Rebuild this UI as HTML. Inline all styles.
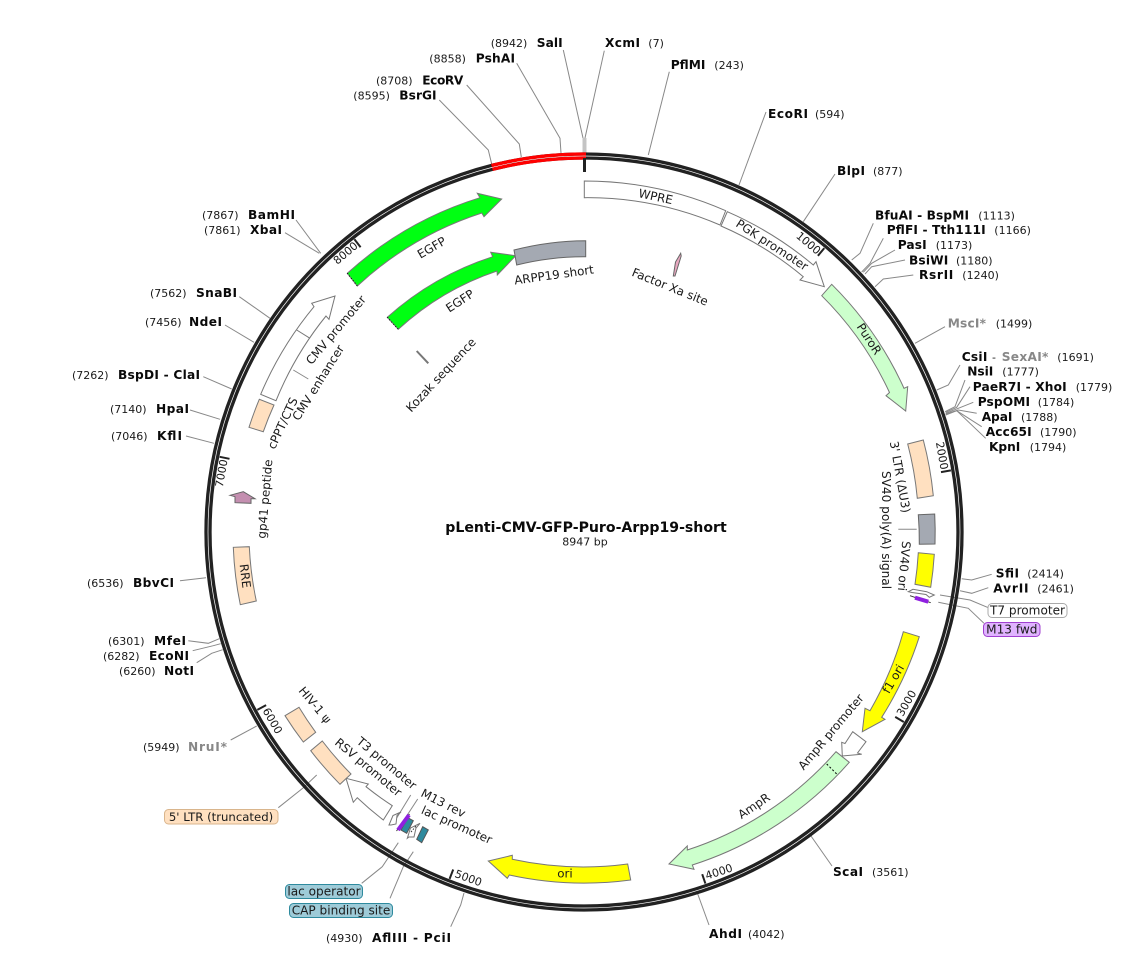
<!DOCTYPE html>
<html><head><meta charset="utf-8"><title>pLenti-CMV-GFP-Puro-Arpp19-short</title>
<style>
html,body{margin:0;padding:0;background:#fff}
svg{display:block}
text{font-family:"DejaVu Sans","Liberation Sans",sans-serif;font-size:11px;fill:#1a1a1a}
.b{font-weight:700;fill:#0a0a0a;font-size:12.2px}
.g{font-weight:700;fill:#888;font-size:12.2px}
.c{text-anchor:middle;dominant-baseline:central}
.lab text{font-size:11.9px}
.box{font-size:12.1px}
.l{fill:none;stroke:#888;stroke-width:1}
.f{stroke:#777;stroke-width:1}
</style></head><body>
<svg width="1128" height="966" viewBox="0 0 1128 966" xmlns="http://www.w3.org/2000/svg">
<rect width="1128" height="966" fill="#fff"/>

<!-- leaders -->
<g class="l">
<polyline points="563.3,50 583,138"/><polyline points="604.3,50.7 585,138"/>
<polyline points="516.7,63.3 560,138.3 561,153"/>
<polyline points="466.7,85 519.3,144 521.3,157"/>
<polyline points="439.3,100 488.3,150 491.7,164"/>
<polyline points="669.3,71.7 648.3,155"/>
<polyline points="766,112 739,185"/>
<polyline points="835,174 803.3,221.7"/>
<polyline points="873.3,223.3 860,253.3 851.7,260"/>
<polyline points="883.3,238.3 870,263.3 861.7,272"/>
<polyline points="895,250 871.7,263.3 863.3,272.3"/>
<polyline points="905,260 871.7,266.7 865,274"/>
<polyline points="913.3,275 883.3,279 875,286.7"/>
<polyline points="945,326.7 915,343.3"/>
<polyline points="960,365 948.3,385 936.7,390"/>
<polyline points="965,380 955,406.7 945,411.7"/>
<polyline points="970,386.7 956.7,407.3 945.7,412.3"/>
<polyline points="973.3,402.3 958.3,408.3 945.7,413.3"/>
<polyline points="976.7,413.3 958.3,410 945.7,414"/>
<polyline points="981.7,426.7 956.7,410.7 945.7,414.7"/>
<polyline points="985.7,438.3 956.7,410.7 945.7,415"/>
<polyline points="991.7,574.3 971.7,580 961.7,578.7"/>
<polyline points="988.3,587.7 971.7,593.3 960,590.7"/>
<polyline points="940,595 970,600 988.3,607.7"/>
<polyline points="938.3,602.3 968.3,608.3 984,623.3"/>
<polyline points="898.3,529.3 916.7,529.3"/>
<polyline points="832,866 811,836"/>
<polyline points="709,925 697,892"/>
<polyline points="450.7,926.7 460.7,905 464,893"/>
<polyline points="361.7,883.3 382.3,866.7 398.3,842.7"/>
<polyline points="390,898.3 403.3,866.7 413.3,851.7"/>
<polyline points="410.7,795 396.7,818"/>
<polyline points="417.7,799 407.3,815"/>
<polyline points="278.3,807.7 302.7,788.3 316.7,775"/>
<polyline points="230.7,740 256.7,726"/>
<polyline points="196.7,662.7 211.7,653.3 222.7,649.7"/>
<polyline points="192.7,650.7 213.3,645.7 220.7,643.7"/>
<polyline points="188.3,640.7 208.3,643.3 219.3,638.7"/>
<polyline points="180,580.7 206,577.7"/>
<polyline points="186,436 214,443.3"/>
<polyline points="190,410 220,419.3"/>
<polyline points="203.3,376.7 231.7,389"/>
<polyline points="225,325 254,342.3"/>
<polyline points="239.3,296.7 270,318.3"/>
<polyline points="285,232.7 319.3,253.3"/>
<polyline points="296,220 320.7,253.3"/>
<polyline points="293.3,370 308.3,379"/>
</g>
<rect x="582.5" y="138" width="4" height="15" fill="#c4c4c4"/>

<!-- rings -->
<circle cx="584" cy="532" r="378" fill="none" stroke="#222" stroke-width="3.3"/>
<circle cx="584" cy="532" r="374" fill="none" stroke="#222" stroke-width="3.3"/>
<path d="M491.5,165.5 A378 378 0 0 1 586,154" fill="none" stroke="#f00" stroke-width="3.3"/>
<path d="M492.5,169.4 A374 374 0 0 1 586,158" fill="none" stroke="#f00" stroke-width="3.3"/>
<g stroke="#222" stroke-width="2">
<line x1="824.3" y1="248.1" x2="817.9" y2="255.8"/>
<line x1="950.9" y1="470.4" x2="941" y2="472.1"/>
<line x1="903.8" y1="722" x2="895.2" y2="716.9"/>
<line x1="705.4" y1="883.6" x2="702.2" y2="874.2"/>
<line x1="449.6" y1="878.9" x2="453.2" y2="869.5"/>
<line x1="257.3" y1="709.9" x2="266.1" y2="705.1"/>
<line x1="219.7" y1="456.8" x2="229.5" y2="458.8"/>
<line x1="354.4" y1="239.3" x2="360.6" y2="247.2"/>
</g>
<rect x="583" y="158" width="3" height="14" fill="#222"/>

<!-- features -->
<g class="f">
<path fill="#fff" d="M584.3,181 A351 351 0 0 1 725.7,210.7 L720,225 A335 335 0 0 0 584.3,197.7 Z"/>
<path fill="#fff" d="M727.3,211.7 A351 351 0 0 1 813.3,265 L816,261.7 L824.3,286.7 L800,280 L803.3,276.7 A335 335 0 0 0 721,226 Z"/>
<path fill="#ccffcc" d="M831.7,284.3 A351 351 0 0 1 904,388.3 L907.7,386.7 L905.7,411 L886,395.7 L889.5,392.5 A335 335 0 0 0 821.7,295.7 Z"/>
<path fill="#ffe0c0" d="M907.7,444 L923.3,440 A351 351 0 0 1 933.3,495.7 L917.3,498.3 A335 335 0 0 0 907.7,444 Z"/>
<path fill="#a4a9b2" stroke="#666" d="M918.3,514.7 L934.7,514 A351 351 0 0 1 935,544 L919.3,544.3 A335 335 0 0 0 918.3,514.7 Z"/>
<path fill="#ffff00" d="M918.3,552.7 L934.3,554.3 A351 351 0 0 1 930.7,587.3 L915,584.3 A335 335 0 0 0 918.3,552.7 Z"/>
<path fill="#ffff00" d="M903.3,631.7 L919.3,636.7 A351 351 0 0 1 881.7,717.3 L885,719.3 L862.3,731.7 L865,708.3 L870,710.7 A335 335 0 0 0 903.3,631.7 Z"/>
<path fill="#fff" d="M852.7,731.7 L866,741.7 L857.5,753 L861.7,754.3 L842.3,756 L841.7,742.3 L845,743.5 Z"/>
<path fill="#ccffcc" d="M836,751.7 L849.3,762.3 A351 351 0 0 1 692.3,865 L694,869.3 L669,864 L687.3,846 L687.3,850 A335 335 0 0 0 836,751.7 Z"/>
<path fill="#ffff00" d="M630.7,880 A351 351 0 0 1 509.3,875 L507.3,878.3 L488.3,861 L512.3,855.3 L512.3,859.3 A335 335 0 0 0 627.7,864 Z"/>
<path fill="#fff" d="M383.3,820 A351 351 0 0 1 357.3,797.7 L353.3,802.3 L346,778.3 L368.3,784 L366,786.7 A335 335 0 0 0 392.3,805.7 Z"/>
<path fill="#ffe0c0" d="M285,715.7 A351 351 0 0 0 303.3,742 L315.7,732.3 A335 335 0 0 1 299,707.3 Z"/>
<path fill="#ffe0c0" d="M310.7,750.7 A351 351 0 0 0 340,784.3 L351,774 A335 335 0 0 1 322.3,741 Z"/>
<path fill="#ffe0c0" d="M233.3,547.3 A351 351 0 0 0 240.3,604.7 L256.3,601 A335 335 0 0 1 249.3,546.7 Z"/>
<path fill="#ffe0c0" d="M249,427.3 A351 351 0 0 1 259.3,399.3 L274,405 A335 335 0 0 0 263.3,431.7 Z"/>
<path fill="#fff" d="M260.7,394.3 A351 351 0 0 1 314,306.7 L311.7,303.3 L335,296 L329,319.3 L326,316 A335 335 0 0 0 276,400.7 Z"/>
<line x1="296.7" y1="330" x2="310" y2="338.3"/>
<path fill="#00ff12" d="M347.3,273.3 A351 351 0 0 1 480,197.7 L477.3,193.3 L501.7,199 L484,216.7 L481.8,213 A335 335 0 0 0 357.3,286 Z"/>
<path fill="#00ff12" d="M387.3,317.3 A291 291 0 0 1 492.7,256.7 L490.7,252.3 L515.7,255.7 L497.3,275 L497,271 A275 275 0 0 0 398.3,329.3 Z"/>
<path fill="#a4a9b2" stroke="#666" d="M514,250 A291 291 0 0 1 585.7,240.7 L585.7,256.7 A275 275 0 0 0 516.7,265 Z"/>
<polygon fill="#c48fb0" stroke="#666" points="230,495.3 243.3,491.7 255,498.7 251,498.7 251,503.3 235,502.7 235,496.7"/>
<polygon fill="#e8a8c0" stroke="#666" points="680.7,253.3 681.2,256 675,276 673.3,276 675.5,262"/>
<polygon fill="#fff" points="908.3,591.7 913,589.3 926.7,591.7 934.3,595 929.3,597.3 926,594.5 912,592.5"/>
<polygon fill="#fff" points="389,825 393,815.5 401,812 397,815.5 396,824 391,825"/>
<polygon fill="#fff" points="407.3,838.3 410.5,828 420,823.3 416,828 414,837 409,837"/>
<polygon fill="#2e8a9e" stroke="#555" points="407.7,817.7 413.3,820.7 406.7,833.3 401,830"/>
<polygon fill="#2e8a9e" stroke="#555" points="422.7,826.7 428.3,830 421.7,842.7 416.7,839.3"/>
</g>
<line x1="347.3" y1="273.3" x2="357.3" y2="286" stroke="#000" stroke-width="1" stroke-dasharray="1 2"/>
<line x1="387.3" y1="317.3" x2="398.3" y2="329.3" stroke="#000" stroke-width="1" stroke-dasharray="1 2"/>
<line x1="826.7" y1="764" x2="836.7" y2="774" stroke="#000" stroke-width="1" stroke-dasharray="2 2"/>
<line x1="416.7" y1="351" x2="428.3" y2="363.3" stroke="#777" stroke-width="2"/>
<line x1="910" y1="595.7" x2="930.7" y2="602.7" stroke="#333" stroke-width="1"/>
<line x1="915" y1="597.7" x2="928.3" y2="601.7" stroke="#9020e0" stroke-width="4"/>
<line x1="396.5" y1="831" x2="409.5" y2="814" stroke="#333" stroke-width="1"/>
<line x1="398" y1="830" x2="409" y2="815" stroke="#9020e0" stroke-width="4"/>
<line x1="411" y1="832" x2="416" y2="826" stroke="#333" stroke-width="1" stroke-dasharray="1.5 1.5"/>

<!-- annotated boxes -->
<rect x="988" y="603.5" width="79" height="14" rx="4" fill="#fff" stroke="#aaa"/>
<rect x="983.5" y="622.5" width="56.5" height="14" rx="4" fill="#e0b3ff" stroke="#a040d0"/>
<rect x="164.5" y="809.5" width="113.5" height="14.5" rx="4" fill="#ffe0c0" stroke="#d9b58c"/>
<rect x="285.5" y="884.5" width="77" height="14" rx="4" fill="#9ecbd8" stroke="#2e8a9e"/>
<rect x="289.5" y="903.5" width="103" height="14" rx="4" fill="#9ecbd8" stroke="#2e8a9e"/>
<text class="c box" x="1027.5" y="610.5">T7 promoter</text>
<text class="c box" x="1011.8" y="629.5">M13 fwd</text>
<text class="c box" x="221" y="816.8" style="font-size:11.7px">5' LTR (truncated)</text>
<text class="c box" x="324" y="891.5">lac operator</text>
<text class="c box" x="341" y="910.5">CAP binding site</text>

<!-- feature labels -->
<g class="lab">
<text class="c" transform="translate(655.7 196.7) rotate(12)">WPRE</text>
<text class="c" transform="translate(772 245) rotate(33)">PGK promoter</text>
<text class="c" transform="translate(869 339) rotate(57)">PuroR</text>
<text class="c" transform="translate(900 477) rotate(80)">3' LTR (ΔU3)</text>
<text class="c" transform="translate(886 530) rotate(90)" style="font-size:12.1px">SV40 poly(A) signal</text>
<text class="c" transform="translate(904 566) rotate(95)">SV40 ori</text>
<text class="c" transform="translate(893.3 679) rotate(-60)">f1 ori</text>
<text class="c" transform="translate(831 732) rotate(-50)">AmpR promoter</text>
<text class="c" transform="translate(754 806) rotate(-34)">AmpR</text>
<text class="c" transform="translate(565 873.7)">ori</text>
<text class="c" transform="translate(441 375) rotate(-47)">Kozak sequence</text>
<text class="c" transform="translate(670 287) rotate(22)">Factor Xa site</text>
<text class="c" transform="translate(554 275) rotate(-8)">ARPP19 short</text>
<text class="c" transform="translate(431.7 247.7) rotate(-30)">EGFP</text>
<text class="c" transform="translate(460 301) rotate(-33)">EGFP</text>
<text class="c" transform="translate(336 330) rotate(-50)">CMV promoter</text>
<text class="c" transform="translate(318.3 382.7) rotate(-58)">CMV enhancer</text>
<text class="c" transform="translate(282.7 423.3) rotate(-65)">cPPT/CTS</text>
<text class="c" transform="translate(265 499) rotate(-85)">gp41 peptide</text>
<text class="c" transform="translate(245 576) rotate(83)">RRE</text>
<text class="c" transform="translate(315 705) rotate(50)">HIV-1 ψ</text>
<text class="c" transform="translate(386.7 763.3) rotate(40)">T3 promoter</text>
<text class="c" transform="translate(368.3 767.3) rotate(40)">RSV promoter</text>
<text class="c" transform="translate(443.3 803.3) rotate(27)">M13 rev</text>
<text class="c" transform="translate(456.7 825) rotate(24)">lac promoter</text>
</g>
<text class="c" transform="translate(808.3 243.3) rotate(40)">1000</text>
<text class="c" transform="translate(941.7 455.7) rotate(80)">2000</text>
<text class="c" transform="translate(906.7 703.3) rotate(-60)">3000</text>
<text class="c" transform="translate(719 872) rotate(-18)">4000</text>
<text class="c" transform="translate(468.3 878.3) rotate(20)">5000</text>
<text class="c" transform="translate(272.3 721) rotate(60)">6000</text>
<text class="c" transform="translate(221.7 473.3) rotate(-80)">7000</text>
<text class="c" transform="translate(345.7 253.3) rotate(-40)">8000</text>

<!-- site labels -->
<text x="490.7" y="47">(8942)</text><text class="b" x="536.7" y="47" textLength="26">SalI</text>
<text class="b" x="605" y="47" textLength="35">XcmI</text><text x="648.3" y="47">(7)</text>
<text x="429.3" y="62.5">(8858)</text><text class="b" x="475.7" y="62.5" textLength="39.3">PshAI</text>
<text class="b" x="670.7" y="69" textLength="34.7">PflMI</text><text x="714.3" y="69">(243)</text>
<text x="376" y="84.3">(8708)</text><text class="b" x="422.3" y="84.3" textLength="41">EcoRV</text>
<text x="353.3" y="99.3">(8595)</text><text class="b" x="399.3" y="99.3" textLength="37.3">BsrGI</text>
<text class="b" x="768" y="118" textLength="40">EcoRI</text><text x="815" y="118">(594)</text>
<text class="b" x="837" y="175" textLength="28">BlpI</text><text x="873" y="175">(877)</text>
<text class="b" x="875" y="219.3" textLength="94">BfuAI - BspMI</text><text x="978.3" y="219.3">(1113)</text>
<text class="b" x="886.7" y="234" textLength="99">PflFI - Tth111I</text><text x="994.3" y="234">(1166)</text>
<text class="b" x="897.7" y="249" textLength="29">PasI</text><text x="935.7" y="249">(1173)</text>
<text class="b" x="909" y="264.3" textLength="39.3">BsiWI</text><text x="956" y="264.3">(1180)</text>
<text class="b" x="919" y="279" textLength="34.3">RsrII</text><text x="962.3" y="279">(1240)</text>
<text class="g" x="947.7" y="327.7" textLength="38.3">MscI*</text><text x="995.7" y="327.7">(1499)</text>
<text class="b" x="961.7" y="361" textLength="25.7">CsiI</text><text x="992" y="361">-</text><text class="g" x="1001.7" y="361" textLength="46.7">SexAI*</text><text x="1057.3" y="361">(1691)</text>
<text class="b" x="967.3" y="375.7" textLength="26">NsiI</text><text x="1002.3" y="375.7">(1777)</text>
<text class="b" x="972.7" y="391" textLength="94">PaeR7I - XhoI</text><text x="1075.7" y="391">(1779)</text>
<text class="b" x="977.7" y="406" textLength="52.3">PspOMI</text><text x="1037.7" y="406">(1784)</text>
<text class="b" x="981.7" y="421" textLength="30.7">ApaI</text><text x="1021" y="421">(1788)</text>
<text class="b" x="985.7" y="436" textLength="46">Acc65I</text><text x="1040" y="436">(1790)</text>
<text class="b" x="989" y="451" textLength="31.3">KpnI</text><text x="1029.7" y="451">(1794)</text>
<text class="b" x="995.7" y="577.3" textLength="23.3">SfiI</text><text x="1027.3" y="577.3">(2414)</text>
<text class="b" x="993.3" y="592.3" textLength="35.3">AvrII</text><text x="1037.3" y="592.3">(2461)</text>
<text class="b" x="833" y="876" textLength="30">ScaI</text><text x="872" y="876">(3561)</text>
<text class="b" x="709" y="938" textLength="33">AhdI</text><text x="748" y="938">(4042)</text>
<text x="326" y="942">(4930)</text><text class="b" x="372" y="942" textLength="79">AflIII - PciI</text>
<text x="143" y="751">(5949)</text><text class="g" x="188" y="751" textLength="39">NruI*</text>
<text x="119" y="675">(6260)</text><text class="b" x="164" y="675" textLength="30">NotI</text>
<text x="103" y="660">(6282)</text><text class="b" x="149" y="660" textLength="40">EcoNI</text>
<text x="108" y="645">(6301)</text><text class="b" x="154" y="645" textLength="32">MfeI</text>
<text x="87" y="587">(6536)</text><text class="b" x="133" y="587" textLength="41">BbvCI</text>
<text x="111" y="440">(7046)</text><text class="b" x="157" y="440" textLength="25">KflI</text>
<text x="110" y="413">(7140)</text><text class="b" x="156" y="413" textLength="33">HpaI</text>
<text x="72" y="379">(7262)</text><text class="b" x="118" y="379" textLength="82">BspDI - ClaI</text>
<text x="145" y="326">(7456)</text><text class="b" x="189" y="326" textLength="33">NdeI</text>
<text x="150" y="297">(7562)</text><text class="b" x="196" y="297" textLength="41">SnaBI</text>
<text x="204" y="234">(7861)</text><text class="b" x="250" y="234" textLength="32">XbaI</text>
<text x="202" y="219">(7867)</text><text class="b" x="248" y="219" textLength="47">BamHI</text>

<text x="586" y="532" text-anchor="middle" style="font-weight:700;font-size:14.1px;fill:#0a0a0a">pLenti-CMV-GFP-Puro-Arpp19-short</text>
<text x="585" y="545.7" text-anchor="middle">8947 bp</text>
</svg>
</body></html>
